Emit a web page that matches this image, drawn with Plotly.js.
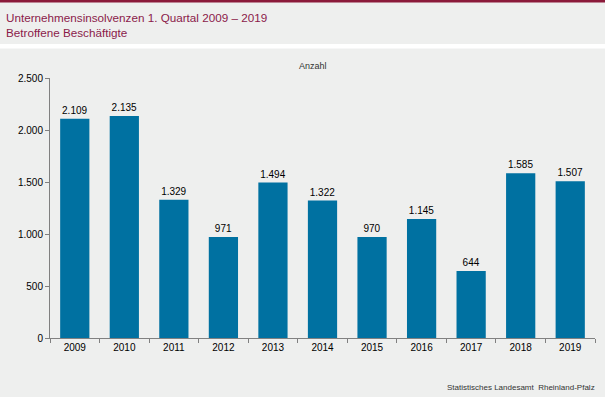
<!DOCTYPE html>
<html><head><meta charset="utf-8">
<script src="https://cdn.plot.ly/plotly-3.0.1.min.js"></script>
<style>html,body{margin:0;padding:0;background:#EEEFEE;}#c{width:605px;height:397px;}</style>
</head><body><div id="c"></div>
<script>
const years = ['2009','2010','2011','2012','2013','2014','2015','2016','2017','2018','2019'];
const employees = [2109, 2135, 1329, 971, 1494, 1322, 970, 1145, 644, 1585, 1507];
const yTicks = [0, 500, 1000, 1500, 2000, 2500];

const L = 50, R = 10, T = 78, B = 59, W = 605, H = 397;
const pw = W - L - R, ph = H - T - B;
const px = x => (x - L) / pw;
const py = y => (H - B - y) / ph;

const trace = {
  type: 'bar', x: years, y: employees,
  marker: {color: '#0071A1'},
  texttemplate: '%{y:,.0f}', textposition: 'outside',
  textfont: {family: 'Liberation Sans, Arial', size: 10, color: '#000'},
  cliponaxis: false, hoverinfo: 'skip'
};
const font = {family: 'Liberation Sans, Arial', size: 10, color: '#000'};
const layout = {
  width: W, height: H, separators: ',.',
  margin: {l: L, r: R, t: T, b: B, pad: 0},
  paper_bgcolor: '#EEEFEE', plot_bgcolor: '#EEEFEE',
  font: font, showlegend: false, bargap: 0.41,
  xaxis: {type: 'category', showline: true, linecolor: '#808080', linewidth: 1,
    ticks: 'outside', tickson: 'boundaries', ticklen: 4, tickcolor: '#808080',
    tickfont: font, showgrid: false, zeroline: false, fixedrange: true},
  yaxis: {range: [0, 2500], tickvals: yTicks, tickformat: ',.0f', showline: true,
    linecolor: '#808080', linewidth: 1, ticks: 'outside', ticklen: 4, tickcolor: '#808080',
    tickfont: font, showgrid: false, zeroline: false, fixedrange: true},
  shapes: [
    {type: 'rect', xref: 'paper', yref: 'paper', x0: px(0), x1: px(W), y0: py(0), y1: py(2.5),
      fillcolor: '#8B1A3A', line: {width: 0}, layer: 'below'},
    {type: 'rect', xref: 'paper', yref: 'paper', x0: px(0), x1: px(W), y0: py(44), y1: py(48.5),
      fillcolor: '#FFFFFF', line: {width: 0}, layer: 'below'}
  ],
  annotations: [
    {xref: 'paper', yref: 'paper', x: px(4), y: py(9), xanchor: 'left', yanchor: 'top',
      text: 'Unternehmensinsolvenzen 1. Quartal 2009 – 2019<br>Betroffene Beschäftigte',
      align: 'left', showarrow: false,
      font: {family: 'Liberation Sans, Arial', size: 11.7, color: '#8B1A4A'}},
    {xref: 'paper', yref: 'paper', x: px(313), y: py(66), xanchor: 'center', yanchor: 'middle',
      text: 'Anzahl', showarrow: false,
      font: {family: 'Liberation Sans, Arial', size: 9, color: '#333'}},
    {xref: 'paper', yref: 'paper', x: px(597), y: py(387), xanchor: 'right', yanchor: 'middle',
      text: 'Statistisches Landesamt  Rheinland-Pfalz', showarrow: false,
      font: {family: 'Liberation Sans, Arial', size: 8, color: '#333'}}
  ]
};
Plotly.newPlot('c', [trace], layout, {displayModeBar: false, staticPlot: true});
</script></body></html>
